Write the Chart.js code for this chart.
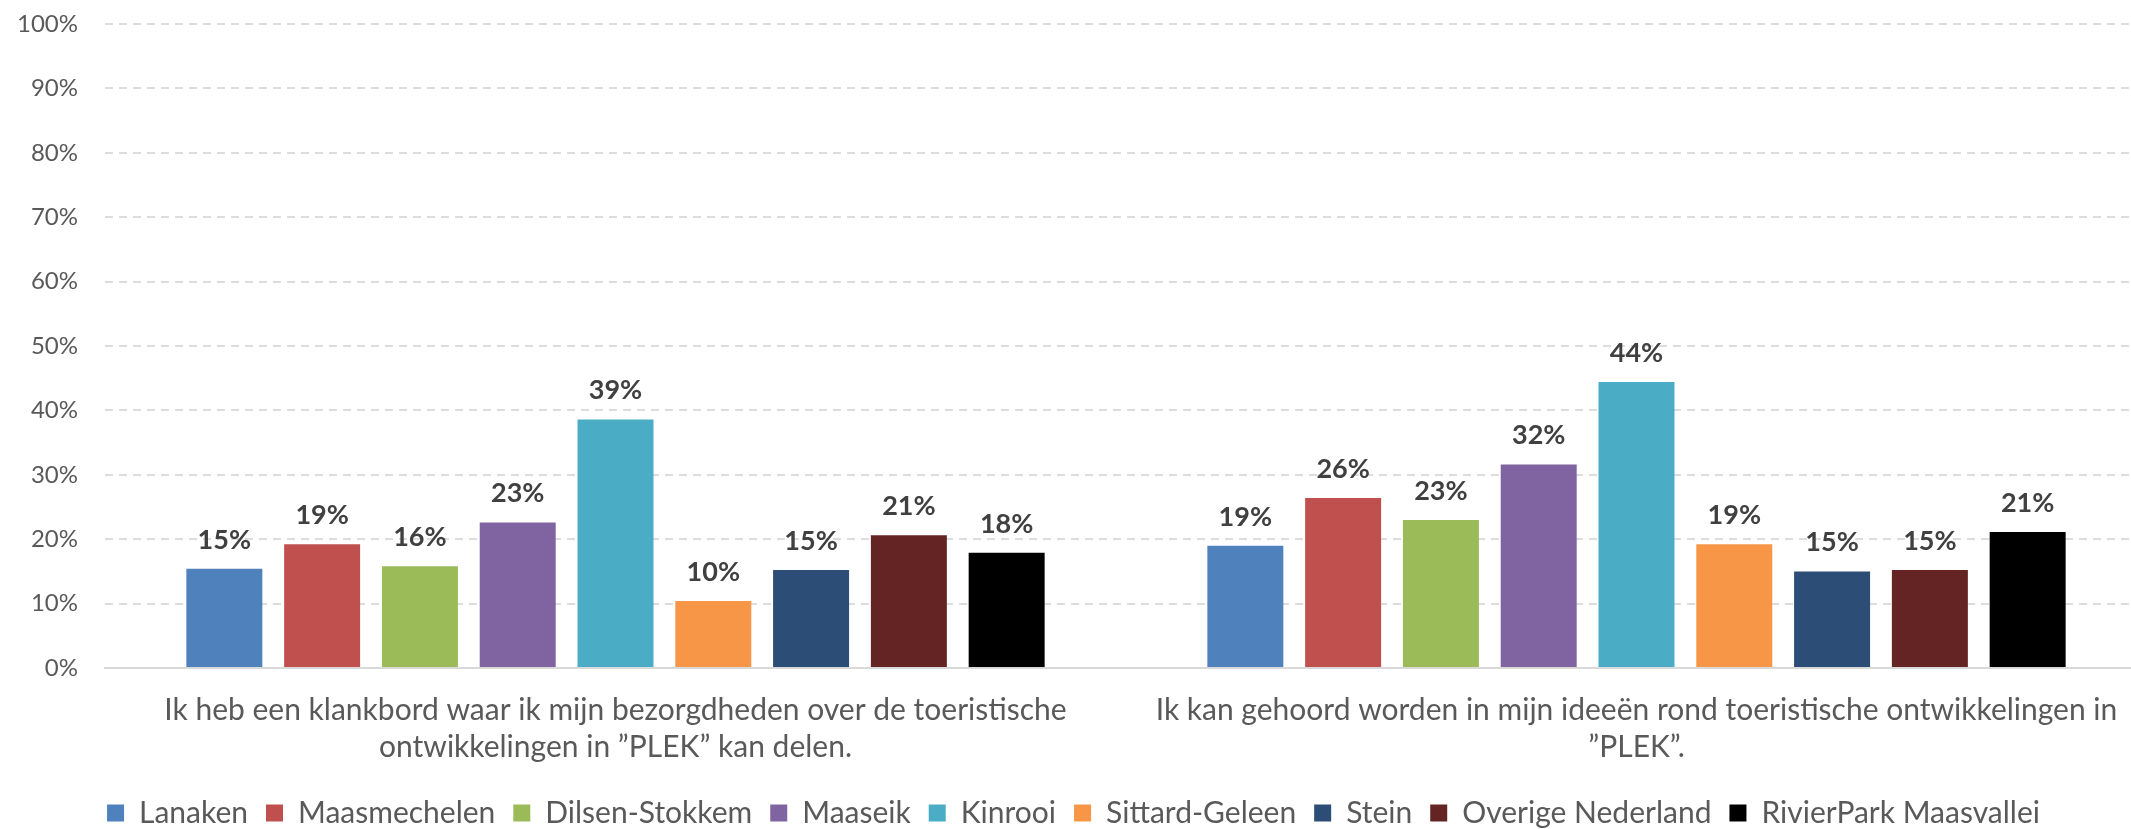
<!DOCTYPE html>
<html>
<head>
<meta charset="utf-8">
<script src="https://cdn.jsdelivr.net/npm/chart.js@4/dist/chart.umd.min.js"></script>
<style>
  html, body { margin: 0; padding: 0; background: #fff; overflow: hidden; }
  #wrap { position: relative; width: 2147px; height: 840px; }
</style>
</head>
<body>
<div id="wrap"><canvas id="chart"></canvas></div>
<script>
// two survey statements (x categories), split in lines like the original
const statements = [
  ['Ik heb een klankbord waar ik mijn bezorgdheden over de toeristische', 'ontwikkelingen in ”PLEK” kan delen.'],
  ['Ik kan gehoord worden in mijn ideeën rond toeristische ontwikkelingen in', '”PLEK”.']
];
const regions = ['Lanaken', 'Maasmechelen', 'Dilsen-Stokkem', 'Maaseik', 'Kinrooi',
  'Sittard-Geleen', 'Stein', 'Overige Nederland', 'RivierPark Maasvallei'];
const regionColors = ['#4f81bd', '#c0504d', '#9bbb59', '#8064a2', '#4bacc6',
  '#f79646', '#2c4d75', '#632423', '#000000'];

// % agree, one value per region
const klankbordValues = [15.4, 19.2, 15.8, 22.6, 38.6, 10.4, 15.2, 20.6, 17.9];
const gehoordValues   = [19.0, 26.4, 23.0, 31.6, 44.4, 19.2, 15.0, 15.2, 21.1];

const yTicks = { min: 0, max: 100, step: 10 };

const fontFamily = 'Lato, "Open Sans", sans-serif';

const datasets = regions.map((name, i) => ({
  label: name,
  data: [klankbordValues[i], gehoordValues[i]],
  backgroundColor: regionColors[i],
  borderWidth: 0,
  categoryPercentage: 0.862,
  barPercentage: 0.777
}));

// value labels above every bar
const barValueLabels = {
  id: 'barValueLabels',
  afterDatasetsDraw(chart) {
    const ctx = chart.ctx;
    ctx.save();
    ctx.font = 'bold 27px ' + fontFamily;
    ctx.fillStyle = '#404040';
    ctx.textAlign = 'center';
    ctx.textBaseline = 'alphabetic';
    chart.data.datasets.forEach((ds, i) => {
      chart.getDatasetMeta(i).data.forEach((bar, j) => {
        ctx.fillText(Math.round(ds.data[j]) + '%', bar.x, bar.y - 20);
      });
    });
    ctx.restore();
  }
};

const ctx = document.getElementById('chart').getContext('2d');
new Chart(ctx, {
  type: 'bar',
  data: { labels: statements, datasets: datasets },
  plugins: [barValueLabels],
  options: {
    responsive: true,
    maintainAspectRatio: false,
    animation: false,
    layout: { padding: { top: 0, left: 0, right: 0, bottom: 2 } },
    plugins: {
      tooltip: { enabled: false },
      legend: {
        position: 'bottom',
        labels: {
          boxWidth: 17,
          boxHeight: 17,
          padding: 18,
          color: '#595959',
          font: { family: fontFamily, size: 30 }
        }
      }
    },
    scales: {
      x: {
        grid: { display: false },
        border: { display: true, color: '#d9d9d9', width: 2 },
        ticks: {
          color: '#595959',
          padding: 16,
          maxRotation: 0,
          autoSkip: false,
          font: { family: fontFamily, size: 30, lineHeight: 1.23 }
        },
        afterFit(scale) { scale.height = 112; }
      },
      y: {
        min: yTicks.min,
        max: yTicks.max,
        border: { display: false, dash: [8, 6] },
        grid: {
          drawTicks: false,
          lineWidth: 2,
          color: c => (c.tick && c.tick.value === 0) ? 'rgba(0,0,0,0)' : '#dddddd'
        },
        ticks: {
          stepSize: yTicks.step,
          padding: 27,
          color: '#595959',
          font: { family: fontFamily, size: 24 },
          callback: v => v + '%'
        },
        afterFit(scale) {
          scale.width = 105;
          scale.paddingTop = 24;
          scale.paddingBottom = 0;
        }
      }
    }
  }
});
</script>
</body>
</html>
